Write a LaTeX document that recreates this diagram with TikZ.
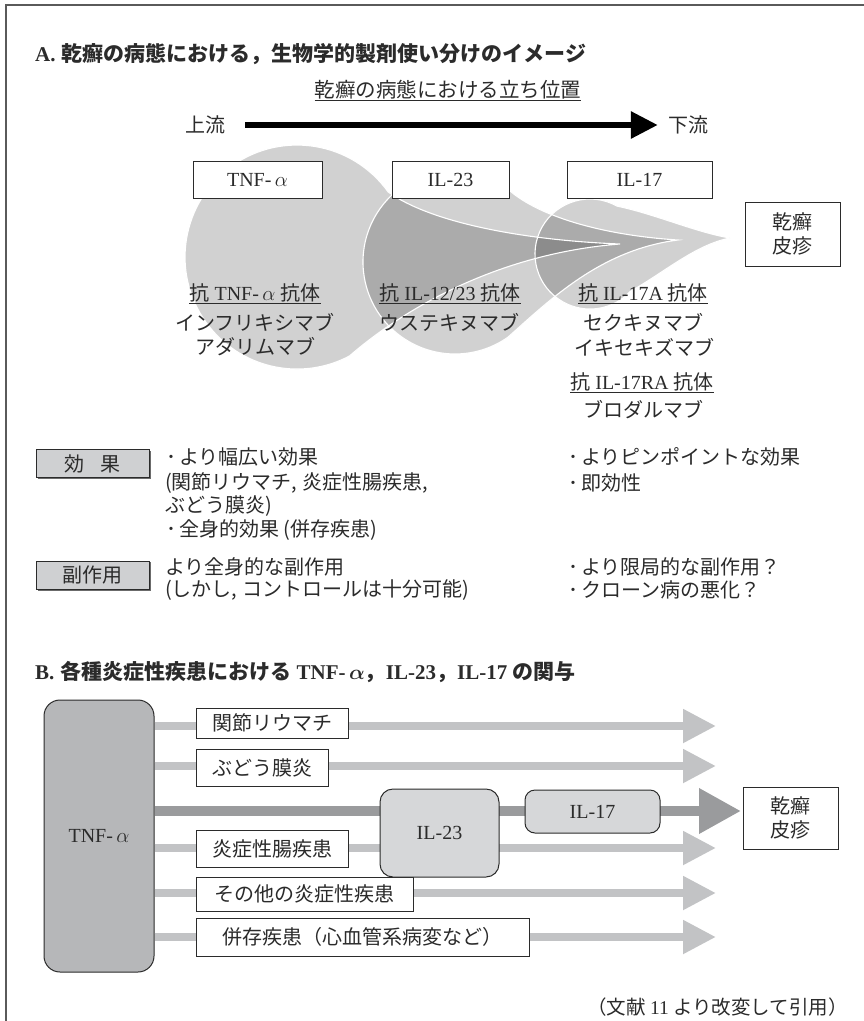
\documentclass[tikz,border=0pt]{standalone}
\usepackage{amsmath}
\usepackage{fontspec}
\setmainfont{Liberation Serif}
\newfontfamily\jp{Noto Sans CJK JP}
\usetikzlibrary{arrows.meta}
\definecolor{ink}{HTML}{2B2B2B}
\definecolor{framec}{HTML}{5A5A5A}
\definecolor{effbox}{HTML}{CFD0D2}
\definecolor{barL}{HTML}{C2C3C5}
\definecolor{barM}{HTML}{9A9B9D}
\definecolor{boxB}{HTML}{B6B7B9}
\definecolor{boxL}{HTML}{D6D7D9}
\newcommand\mybul{\makebox[16pt][c]{･}}
\begin{document}
\begin{tikzpicture}[x=1pt,y=-1pt,
  every node/.style={inner sep=0pt, text=ink},
  f20/.style={font=\fontsize{20}{25}\selectfont},
  j20/.style={font=\fontsize{20}{25}\selectfont\jp},
  abox/.style={draw=ink, line width=1pt, fill=white, minimum height=37pt, f20},
  gbox/.style={draw=ink, line width=1pt, fill=effbox, minimum width=113pt, minimum height=28pt, j20},
  rowbox/.style={draw=ink, line width=0.9pt, fill=white, anchor=west, j20},
  rbox/.style={draw=ink, line width=1pt, rounded corners=13pt, f20},
  lbar/.style={barL, line width=8pt, -{Triangle[length=33pt,width=32pt]}},
  mbar/.style={barM, line width=10pt, -{Triangle[length=42pt,width=43pt]}},
  uline/.style={ink, line width=0.9pt},
  txt/.style={anchor=west, j20}]
\useasboundingbox (0,0) rectangle (864,1021);
% frame
\draw[framec, line width=1.5pt] (6,1021) -- (6,5) -- (864,5);

% ---------- Part A ----------
\node[anchor=west, font=\fontsize{21}{25}\selectfont\bfseries] (titleA) at (35,54)
  {A.\hspace{6pt}{\jp 乾癬の病態における，生物学的製剤使い分けのイメージ}};
\node[font=\fontsize{20.5}{25}\selectfont\jp] (subA) at (448,90) {乾癬の病態における立ち位置};
\draw[uline] ([yshift=-1pt]subA.south west) -- ([yshift=-1pt]subA.south east);
\node[j20] (up) at (205,125) {上流};
\node[j20] (down) at (688,125) {下流};
\draw[black, line width=6pt, -{Triangle[length=27pt,width=26pt]}, shorten <=20pt, shorten >=10pt] (up) -- (down);

% teardrop shapes
\def\tnfpath{(388.2,192.0) arc[start angle=-35.5, end angle=-298, radius=112]
   .. controls (385,325) and (480,255) .. (620,244) .. controls (520,240) and (430,222) .. cycle}
\def\ilpath{(501,182.3) arc[start angle=-60, end angle=-305, radius=92]
   .. controls (550,300) and (600,250) .. (678,240) .. controls (600,235) and (530,215) .. cycle}
\def\ilsevpath{(617,206.1) arc[start angle=-60.6, end angle=-317.2, radius=55]
   .. controls (665,272) and (695,245) .. (730,238) .. controls (695,232) and (655,214) .. cycle}
\begin{scope}[fill opacity=0.18]
  \fill[black] \tnfpath;
  \fill[black] \ilpath;
  \fill[black] \ilsevpath;
\end{scope}
\draw[white, line width=1.1pt] \tnfpath;
\draw[white, line width=1.1pt] \ilpath;
\draw[white, line width=1.1pt] \ilsevpath;

\node[abox, minimum width=129pt] (tnfA) at (257.5,179.5) {TNF-\,$\alpha$};
\node[abox, minimum width=117pt] (il23A) at (450.5,179.5) {IL-23};
\node[abox, minimum width=145pt] (il17A) at (639.5,179.5) {IL-17};
\node[abox, minimum width=95pt, minimum height=64pt, align=center, font=\fontsize{20}{24}\selectfont\jp] (psA) at (792.5,234) {乾癬\\皮疹};

\node[f20] (lab1) at (255,293) {{\jp 抗} TNF-\,$\alpha$ {\jp 抗体}};
\node[j20] (n1a) at (255,322) {インフリキシマブ};
\node[j20] (n1b) at (255,347) {アダリムマブ};
\node[f20] (lab2) at (450,293) {{\jp 抗} IL-12/23 {\jp 抗体}};
\node[j20] (n2a) at (449,322) {ウステキヌマブ};
\node[f20] (lab3) at (643,293) {{\jp 抗} IL-17A {\jp 抗体}};
\node[j20] (n3a) at (643,322) {セクキヌマブ};
\node[j20] (n3b) at (644,347) {イキセキズマブ};
\node[f20] (lab4) at (642,382) {{\jp 抗} IL-17RA {\jp 抗体}};
\node[j20] (n4a) at (643,410) {ブロダルマブ};
\foreach \l in {lab1,lab2,lab3,lab4}
  \draw[uline] ([yshift=-1pt]\l.south west) -- ([yshift=-1pt]\l.south east);

% effects
\draw[ink!70, line width=1.6pt] (37.5,478.5) -- (150.5,478.5) -- (150.5,450.5);
\draw[ink!70, line width=1.6pt] (37.5,590) -- (150.5,590) -- (150.5,562);
\node[gbox] (eff) at (92.5,463.5) {効\hspace{16pt}果};
\node[gbox] (side) at (92.5,575) {副作用};
\node[txt] (t1) at (163,457) {\mybul より幅広い効果};
\node[txt] (t2) at (165,483) {(関節リウマチ, 炎症性腸疾患,};
\node[txt] (t3) at (165,506) {ぶどう膜炎)};
\node[txt] (t4) at (163,530) {\mybul 全身的効果 (併存疾患)};
\node[txt] (t5) at (565,457) {\mybul よりピンポイントな効果};
\node[txt] (t6) at (565,483) {\mybul 即効性};
\node[txt] (s1) at (165,567) {より全身的な副作用};
\node[txt] (s2) at (165,590) {(しかし, コントロールは十分可能)};
\node[txt] (s3) at (565,567) {\mybul より限局的な副作用？};
\node[txt] (s4) at (565,590) {\mybul クローン病の悪化？};

% ---------- Part B ----------
\node[anchor=west, font=\fontsize{21}{25}\selectfont\bfseries] (titleB) at (35,672)
  {B.\hspace{6pt}{\jp 各種炎症性疾患における} TNF-\,$\boldsymbol{\alpha}${\jp ，}IL-23{\jp ，}IL-17 {\jp の関与}};
\node[draw=ink, line width=1pt, rounded corners=16pt, fill=boxB, minimum width=110pt, minimum height=272pt, f20] (tnfB) at (99,836) {TNF-\,$\alpha$};

\coordinate (a1) at (716,726);
\coordinate (a2) at (716,766);
\coordinate (am) at (741,811);
\coordinate (a3) at (716,848);
\coordinate (a4) at (716,893);
\coordinate (a5) at (716,937);
\draw[lbar] (tnfB.east |- a1) -- (a1);
\draw[lbar] (tnfB.east |- a2) -- (a2);
\draw[lbar] (tnfB.east |- a3) -- (a3);
\draw[lbar] (tnfB.east |- a4) -- (a4);
\draw[lbar] (tnfB.east |- a5) -- (a5);
\draw[mbar] (tnfB.east |- am) -- (am);

\node[rowbox, minimum width=152pt, minimum height=30pt] (r1) at (196,723) {関節リウマチ};
\node[rowbox, minimum width=132pt, minimum height=37pt] (r2) at (196,768) {ぶどう膜炎};
\node[rowbox, minimum width=152pt, minimum height=37pt] (r3) at (196,848.5) {炎症性腸疾患};
\node[rowbox, minimum width=217pt, minimum height=34pt] (r4) at (196,894) {その他の炎症性疾患};
\node[rowbox, minimum width=333pt, minimum height=38pt] (r5) at (196,937) {併存疾患（心血管系病変など）};

\node[rbox, fill=boxL, minimum width=119pt, minimum height=88pt] (il23B) at (439.5,833) {IL-23};
\node[rbox, fill=boxL, rounded corners=10pt, minimum width=135pt, minimum height=43pt] (il17B) at (592.5,811.5) {IL-17};
\node[draw=ink, line width=1pt, fill=white, minimum width=95pt, minimum height=62pt, align=center, font=\fontsize{20}{24}\selectfont\jp] (psB) at (790.5,818) {乾癬\\皮疹};

\node[anchor=east, font=\fontsize{19.5}{22}\selectfont\jp] (cite) at (848,1007) {（文献 {\rmfamily 11} より改変して引用）};
\end{tikzpicture}
\end{document}
